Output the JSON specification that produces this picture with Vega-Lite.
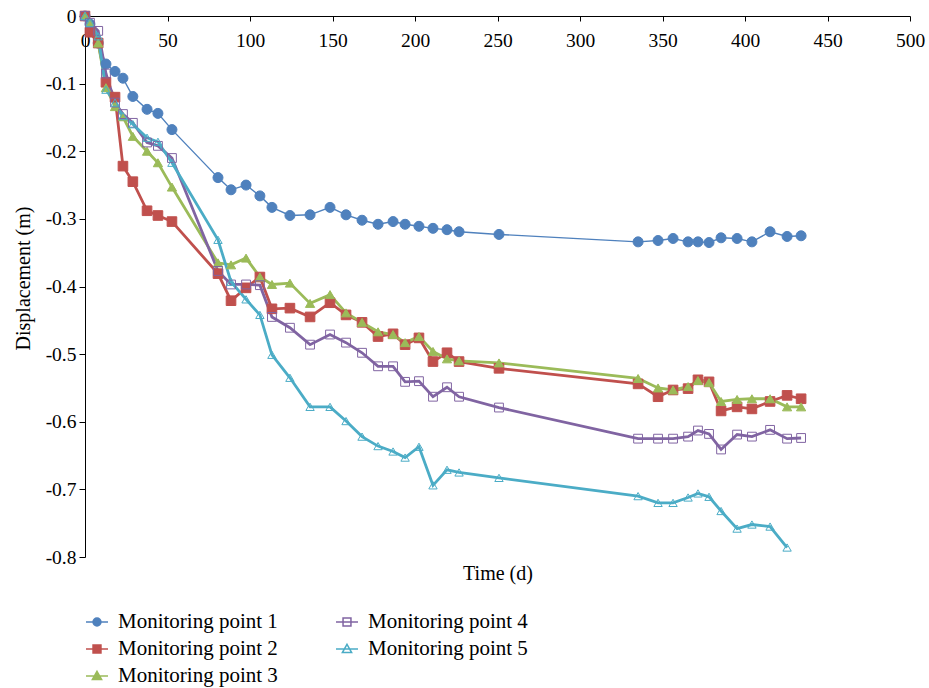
{
"$schema": "https://vega.github.io/schema/vega-lite/v6.json",
"autosize": "none",
"width": 825,
"height": 541,
"padding": {"left": 85, "top": 16, "right": 19, "bottom": 131},
"background": "white",
"config": {
  "view": {"stroke": null},
  "font": "Liberation Serif",
  "axis": {"labelFont": "Liberation Serif", "titleFont": "Liberation Serif", "labelFontSize": 19.5, "titleFontSize": 20, "titleFontWeight": "normal", "labelColor": "#000", "titleColor": "#000", "domainColor": "#000", "tickColor": "#000", "grid": false, "domainWidth": 1, "tickWidth": 1}
},
"data": {"values": [
{"t":0,"Monitoring point 1":0,"Monitoring point 2":0,"Monitoring point 3":0,"Monitoring point 4":0,"Monitoring point 5":0},
{"t":3,"Monitoring point 1":-0.012,"Monitoring point 2":-0.024,"Monitoring point 3":-0.01,"Monitoring point 4":-0.01,"Monitoring point 5":-0.01},
{"t":8,"Monitoring point 1":-0.04,"Monitoring point 2":-0.04,"Monitoring point 3":-0.04,"Monitoring point 4":-0.022,"Monitoring point 5":-0.03},
{"t":12.7,"Monitoring point 1":-0.071,"Monitoring point 2":-0.098,"Monitoring point 3":-0.106,"Monitoring point 4":-0.085,"Monitoring point 5":-0.109},
{"t":18.2,"Monitoring point 1":-0.082,"Monitoring point 2":-0.12,"Monitoring point 3":-0.134,"Monitoring point 4":-0.128,"Monitoring point 5":-0.128},
{"t":23,"Monitoring point 1":-0.092,"Monitoring point 2":-0.222,"Monitoring point 3":-0.149,"Monitoring point 4":-0.145,"Monitoring point 5":-0.148},
{"t":29,"Monitoring point 1":-0.119,"Monitoring point 2":-0.245,"Monitoring point 3":-0.178,"Monitoring point 4":-0.158,"Monitoring point 5":-0.16},
{"t":37.6,"Monitoring point 1":-0.138,"Monitoring point 2":-0.288,"Monitoring point 3":-0.2,"Monitoring point 4":-0.187,"Monitoring point 5":-0.18},
{"t":44.2,"Monitoring point 1":-0.144,"Monitoring point 2":-0.295,"Monitoring point 3":-0.217,"Monitoring point 4":-0.192,"Monitoring point 5":-0.186},
{"t":52.7,"Monitoring point 1":-0.168,"Monitoring point 2":-0.304,"Monitoring point 3":-0.253,"Monitoring point 4":-0.21,"Monitoring point 5":-0.217},
{"t":80.6,"Monitoring point 1":-0.239,"Monitoring point 2":-0.381,"Monitoring point 3":-0.365,"Monitoring point 4":-0.377,"Monitoring point 5":-0.331},
{"t":88.5,"Monitoring point 1":-0.257,"Monitoring point 2":-0.421,"Monitoring point 3":-0.368,"Monitoring point 4":-0.397,"Monitoring point 5":-0.393},
{"t":97.6,"Monitoring point 1":-0.25,"Monitoring point 2":-0.402,"Monitoring point 3":-0.358,"Monitoring point 4":-0.397,"Monitoring point 5":-0.419},
{"t":106,"Monitoring point 1":-0.266,"Monitoring point 2":-0.386,"Monitoring point 3":-0.386,"Monitoring point 4":-0.398,"Monitoring point 5":-0.442},
{"t":113.3,"Monitoring point 1":-0.283,"Monitoring point 2":-0.433,"Monitoring point 3":-0.397,"Monitoring point 4":-0.445,"Monitoring point 5":-0.501},
{"t":124.2,"Monitoring point 1":-0.295,"Monitoring point 2":-0.432,"Monitoring point 3":-0.395,"Monitoring point 4":-0.461,"Monitoring point 5":-0.535},
{"t":136.4,"Monitoring point 1":-0.294,"Monitoring point 2":-0.445,"Monitoring point 3":-0.425,"Monitoring point 4":-0.486,"Monitoring point 5":-0.578},
{"t":148.5,"Monitoring point 1":-0.283,"Monitoring point 2":-0.424,"Monitoring point 3":-0.412,"Monitoring point 4":-0.471,"Monitoring point 5":-0.578},
{"t":158.2,"Monitoring point 1":-0.294,"Monitoring point 2":-0.442,"Monitoring point 3":-0.439,"Monitoring point 4":-0.483,"Monitoring point 5":-0.599},
{"t":167.9,"Monitoring point 1":-0.302,"Monitoring point 2":-0.453,"Monitoring point 3":-0.453,"Monitoring point 4":-0.498,"Monitoring point 5":-0.622},
{"t":177.6,"Monitoring point 1":-0.308,"Monitoring point 2":-0.474,"Monitoring point 3":-0.467,"Monitoring point 4":-0.518,"Monitoring point 5":-0.636},
{"t":186.7,"Monitoring point 1":-0.304,"Monitoring point 2":-0.47,"Monitoring point 3":-0.471,"Monitoring point 4":-0.518,"Monitoring point 5":-0.644},
{"t":194,"Monitoring point 1":-0.308,"Monitoring point 2":-0.486,"Monitoring point 3":-0.483,"Monitoring point 4":-0.541,"Monitoring point 5":-0.653},
{"t":202.4,"Monitoring point 1":-0.311,"Monitoring point 2":-0.476,"Monitoring point 3":-0.474,"Monitoring point 4":-0.54,"Monitoring point 5":-0.637},
{"t":210.9,"Monitoring point 1":-0.314,"Monitoring point 2":-0.511,"Monitoring point 3":-0.496,"Monitoring point 4":-0.563,"Monitoring point 5":-0.694},
{"t":219.4,"Monitoring point 1":-0.316,"Monitoring point 2":-0.498,"Monitoring point 3":-0.507,"Monitoring point 4":-0.549,"Monitoring point 5":-0.671},
{"t":226.7,"Monitoring point 1":-0.319,"Monitoring point 2":-0.511,"Monitoring point 3":-0.51,"Monitoring point 4":-0.563,"Monitoring point 5":-0.675},
{"t":250.9,"Monitoring point 1":-0.323,"Monitoring point 2":-0.521,"Monitoring point 3":-0.513,"Monitoring point 4":-0.579,"Monitoring point 5":-0.683},
{"t":335.2,"Monitoring point 1":-0.334,"Monitoring point 2":-0.544,"Monitoring point 3":-0.536,"Monitoring point 4":-0.625,"Monitoring point 5":-0.71},
{"t":347.3,"Monitoring point 1":-0.332,"Monitoring point 2":-0.563,"Monitoring point 3":-0.55,"Monitoring point 4":-0.625,"Monitoring point 5":-0.72},
{"t":356.4,"Monitoring point 1":-0.329,"Monitoring point 2":-0.553,"Monitoring point 3":-0.553,"Monitoring point 4":-0.625,"Monitoring point 5":-0.72},
{"t":365.5,"Monitoring point 1":-0.334,"Monitoring point 2":-0.551,"Monitoring point 3":-0.548,"Monitoring point 4":-0.622,"Monitoring point 5":-0.712},
{"t":371.5,"Monitoring point 1":-0.334,"Monitoring point 2":-0.538,"Monitoring point 3":-0.539,"Monitoring point 4":-0.613,"Monitoring point 5":-0.706},
{"t":378.2,"Monitoring point 1":-0.335,"Monitoring point 2":-0.541,"Monitoring point 3":-0.542,"Monitoring point 4":-0.618,"Monitoring point 5":-0.711},
{"t":385.5,"Monitoring point 1":-0.328,"Monitoring point 2":-0.584,"Monitoring point 3":-0.57,"Monitoring point 4":-0.641,"Monitoring point 5":-0.732},
{"t":395.2,"Monitoring point 1":-0.329,"Monitoring point 2":-0.578,"Monitoring point 3":-0.567,"Monitoring point 4":-0.619,"Monitoring point 5":-0.758},
{"t":404.2,"Monitoring point 1":-0.334,"Monitoring point 2":-0.581,"Monitoring point 3":-0.566,"Monitoring point 4":-0.622,"Monitoring point 5":-0.752},
{"t":415.2,"Monitoring point 1":-0.319,"Monitoring point 2":-0.57,"Monitoring point 3":-0.566,"Monitoring point 4":-0.612,"Monitoring point 5":-0.755},
{"t":425.5,"Monitoring point 1":-0.326,"Monitoring point 2":-0.561,"Monitoring point 3":-0.578,"Monitoring point 4":-0.625,"Monitoring point 5":-0.786},
{"t":434,"Monitoring point 1":-0.325,"Monitoring point 2":-0.566,"Monitoring point 3":-0.578,"Monitoring point 4":-0.624,"Monitoring point 5":null}
]},
"transform": [
  {"fold": ["Monitoring point 1","Monitoring point 2","Monitoring point 3","Monitoring point 4","Monitoring point 5"], "as": ["series","v"]}
],
"resolve": {"axis": {"x": "independent"}},
"layer": [
  {
    "mark": {"type": "line"},
    "encoding": {
      "x": {"field": "t", "type": "quantitative", "scale": {"domain": [0, 500], "nice": false, "zero": false},
        "axis": {"orient": "top", "title": null, "values": [0,50,100,150,200,250,300,350,400,450,500], "tickSize": -5, "labelPadding": -10, "labelBaseline": "top", "labelFlush": false, "labelOverlap": false}},
      "y": {"field": "v", "type": "quantitative", "scale": {"domain": [-0.8, 0], "nice": false, "zero": false},
        "axis": {"title": "Displacement (m)", "values": [0,-0.1,-0.2,-0.3,-0.4,-0.5,-0.6,-0.7,-0.8], "tickSize": 6, "labelPadding": 3, "titlePadding": 12, "titleY": 262,
          "labelExpr": "datum.value == 0 ? '0' : replace(format(datum.value, '.1f'), '\u2212', '-')"}},
      "color": {"field": "series", "type": "nominal",
        "scale": {"domain": ["Monitoring point 1","Monitoring point 2","Monitoring point 3","Monitoring point 4","Monitoring point 5"],
                  "range": ["#4F81BD","#C0504D","#9BBB59","#8064A2","#4BACC6"]},
        "legend": {"title": null, "orient": "none", "legendX": 0, "legendY": 594, "columns": 2, "columnPadding": 55, "rowPadding": 5, "padding": 0,
          "labelFont": "Liberation Serif", "labelFontSize": 21, "labelColor": "#000", "labelOffset": 9, "labelLimit": 400,
          "symbolSize": 484, "symbolStrokeWidth": 1.5, "symbolType": "stroke",
          "encode": {"symbols": {"update": {
            "shape": {"signal": "datum.value === 'Monitoring point 1' ? 'M-1,0H1M-0.36,0A0.36,0.36 0 1,1 0.36,0A0.36,0.36 0 1,1 -0.36,0Z' : (datum.value === 'Monitoring point 2' || datum.value === 'Monitoring point 4') ? 'M-1,0H1M-0.36,-0.36H0.36V0.36H-0.36Z' : 'M-1,0H1M0,-0.42L0.42,0.32H-0.42Z'"},
            "fill": {"signal": "datum.value === 'Monitoring point 1' ? '#4F81BD' : datum.value === 'Monitoring point 2' ? '#C0504D' : datum.value === 'Monitoring point 3' ? '#9BBB59' : 'transparent'"},
            "size": {"value": 484},
            "strokeWidth": {"value": 1.5}
          }}}}},
      "strokeWidth": {"condition": {"test": "datum.series === 'Monitoring point 1'", "value": 1.4}, "value": 2.8}
    }
  },
  {
    "mark": {"type": "point", "filled": false, "opacity": 1},
    "encoding": {
      "x": {"field": "t", "type": "quantitative",
        "axis": {"orient": "bottom", "title": "Time (d)", "labels": false, "ticks": false, "domain": false, "titlePadding": 6, "titleBaseline": "top"}},
      "y": {"field": "v", "type": "quantitative"},
      "color": {"field": "series", "type": "nominal", "legend": null},
      "shape": {"field": "series", "type": "nominal", "legend": null,
        "scale": {"domain": ["Monitoring point 5","Monitoring point 4","Monitoring point 3","Monitoring point 2","Monitoring point 1"], "range": ["triangle-up","square","triangle-up","square","circle"]}},
      "fill": {"field": "series", "type": "nominal", "legend": null,
        "scale": {"domain": ["Monitoring point 5","Monitoring point 4","Monitoring point 3","Monitoring point 2","Monitoring point 1"], "range": ["transparent","transparent","#9BBB59","#C0504D","#4F81BD"]}},
      "size": {"field": "series", "type": "nominal", "legend": null,
        "scale": {"domain": ["Monitoring point 5","Monitoring point 4","Monitoring point 3","Monitoring point 2","Monitoring point 1"], "range": [70, 100, 100, 110, 70]}},
      "strokeWidth": {"value": 1}
    }
  }
]
}
